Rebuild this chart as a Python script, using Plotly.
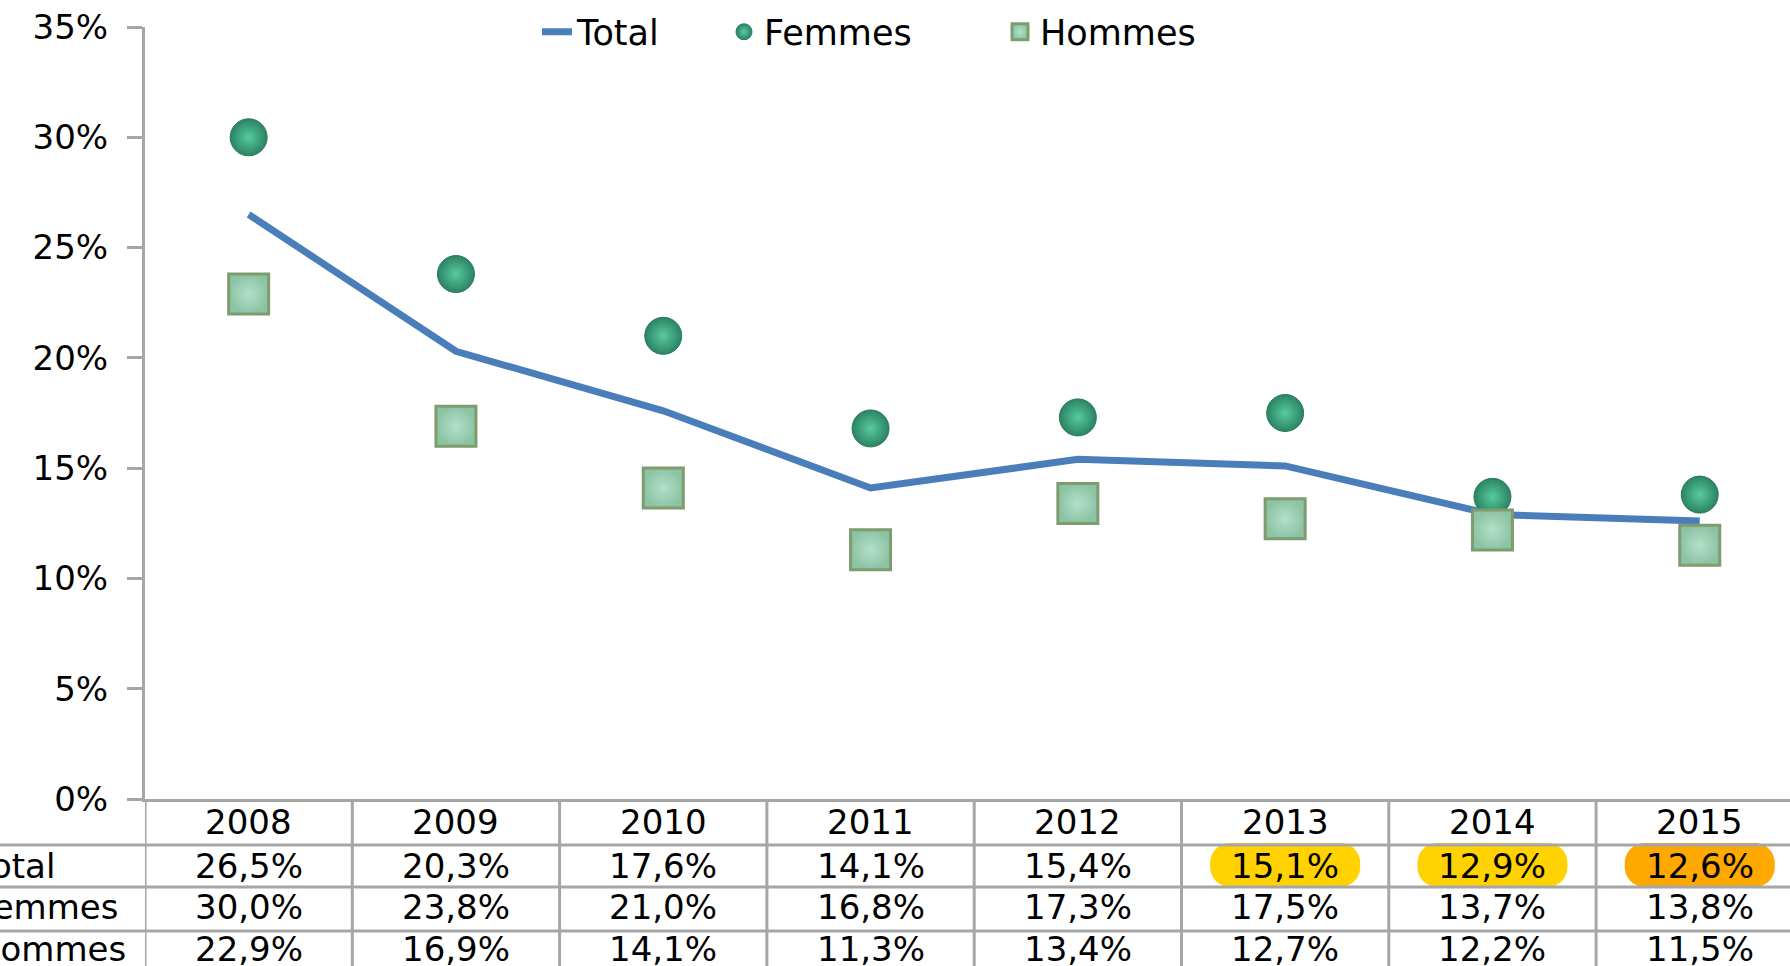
import plotly.graph_objects as go

years = ["2008", "2009", "2010", "2011", "2012", "2013", "2014", "2015"]
total = [26.5, 20.3, 17.6, 14.1, 15.4, 15.1, 12.9, 12.6]
femmes = [30.0, 23.8, 21.0, 16.8, 17.3, 17.5, 13.7, 13.8]
hommes = [22.9, 16.9, 14.1, 11.3, 13.4, 12.7, 12.2, 11.5]
row_labels = ["Total", "Femmes", "Hommes"]
y_ticks = [0, 5, 10, 15, 20, 25, 30, 35]
y_tick_text = ["0%", "5%", "10%", "15%", "20%", "25%", "30%", "35%"]
highlight = {5: "#FFD200", 6: "#FFD200", 7: "#FFA800"}  # Total row cells highlighted

W, H = 1790, 966
ML, MR, MT, MB = 145, 0, 27, 167
PW = W - ML - MR
PH = H - MT - MB
COL = 207.3
FONT = "DejaVu Sans"
GRID = "#a6a6a6"

def py(p):
    return (H - MB - p) / PH

def fmt(v):
    return f"{v:.1f}".replace(".", ",") + "%"

xs = list(range(len(years)))

fig = go.Figure()
fig.add_trace(go.Scatter(
    x=xs, y=total, mode="lines", name="Total", showlegend=True,
    line=dict(color="#4a7ebb", width=7), legend="legend"))
fig.add_trace(go.Scatter(
    x=xs, y=femmes, mode="markers", name="Femmes", showlegend=True,
    marker=dict(symbol="circle", size=37, color="#2b8363",
                gradient=dict(type="radial", color="#58cb9f"),
                line=dict(width=1, color="#2a7a5c")), legend="legend2"))
fig.add_trace(go.Scatter(
    x=xs, y=hommes, mode="markers", name="Hommes", showlegend=True,
    marker=dict(symbol="square", size=40, color="#8cc3a4",
                gradient=dict(type="radial", color="#b3e0cb"),
                line=dict(width=3, color="#7f9c6e")), legend="legend3"))

shapes = []
for p in [845, 887, 931]:
    shapes.append(dict(type="line", xref="paper", yref="paper",
                       x0=-ML / PW, x1=1, y0=py(p), y1=py(p),
                       line=dict(color=GRID, width=3)))
for i in range(len(years) + 1):
    shapes.append(dict(type="line", xref="x", yref="paper",
                       x0=i - 0.5, x1=i - 0.5, y0=py(799), y1=py(H),
                       line=dict(color=GRID, width=3)))
w2, h2, r = 75, 22, 20
k = 0.55 * r
pill = (f"M{-w2 + r},{-h2} L{w2 - r},{-h2} C{w2 - r + k},{-h2} {w2},{-h2 + r - k} {w2},{-h2 + r} "
        f"L{w2},{h2 - r} C{w2},{h2 - r + k} {w2 - r + k},{h2} {w2 - r},{h2} "
        f"L{-w2 + r},{h2} C{-w2 + r - k},{h2} {-w2},{h2 - r + k} {-w2},{h2 - r} "
        f"L{-w2},{-h2 + r} C{-w2},{-h2 + r - k} {-w2 + r - k},{-h2} {-w2 + r},{-h2} Z")
for i, c in highlight.items():
    shapes.append(dict(type="path", xref="x", yref="paper",
                       xsizemode="pixel", ysizemode="pixel",
                       xanchor=i, yanchor=py(865), path=pill,
                       fillcolor=c, line=dict(width=0), layer="below"))

ann = []
tfont = dict(family=FONT, size=34, color="#000000")
row_y = [866, 907, 949]
for i, yr in enumerate(years):
    ann.append(dict(x=i, y=py(822), xref="x", yref="paper", text=yr,
                    showarrow=False, font=tfont, xanchor="center", yanchor="middle"))
    for vals, yy in zip([total, femmes, hommes], row_y):
        ann.append(dict(x=i, y=py(yy), xref="x", yref="paper", text=fmt(vals[i]),
                        showarrow=False, font=tfont, xanchor="center", yanchor="middle"))
for lab, yy in zip(row_labels, row_y):
    ann.append(dict(x=(-27 - ML) / PW, y=py(yy), xref="paper", yref="paper", text=lab,
                    showarrow=False, font=tfont, xanchor="left", yanchor="middle"))

leg_common = dict(orientation="h", yanchor="middle", xanchor="left", visible=True,
                  bgcolor="rgba(0,0,0,0)", font=dict(family=FONT, size=35, color="#000"))
fig.update_layout(
    width=W, height=H, showlegend=True,
    margin=dict(l=ML, r=MR, t=MT, b=MB, autoexpand=False),
    paper_bgcolor="white", plot_bgcolor="white",
    font=dict(family=FONT, color="#000"),
    xaxis=dict(range=[-0.5, -0.5 + PW / COL], showgrid=False, zeroline=False,
               showticklabels=False, ticks="", showline=True, linecolor=GRID, linewidth=3),
    yaxis=dict(range=[0, 35], tickmode="array", tickvals=y_ticks, ticktext=y_tick_text,
               showgrid=False, zeroline=False, showline=True, linecolor=GRID, linewidth=3,
               ticks="outside", ticklen=15, tickwidth=3, tickcolor=GRID,
               tickfont=dict(family=FONT, size=34, color="#000"), ticklabelstandoff=12),
    shapes=shapes, annotations=ann,
    legend=dict(x=(537 - ML) / PW, y=py(32), **leg_common),
    legend2=dict(x=(724 - ML) / PW, y=py(32), **leg_common),
    legend3=dict(x=(1000 - ML) / PW, y=py(32), **leg_common),
)
fig.write_html("out.html", config={"displayModeBar": False},
               post_script="document.body.style.margin='0px';")
